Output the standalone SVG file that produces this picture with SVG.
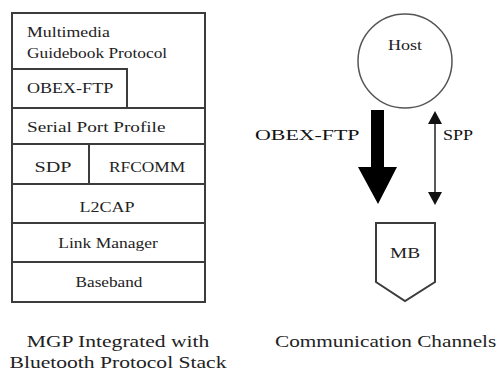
<svg xmlns="http://www.w3.org/2000/svg" width="499" height="374" viewBox="0 0 499 374">
<rect width="499" height="374" fill="#fff"/>
<g id="stack">
<g fill="#fff" stroke="#3c3c3c" stroke-width="2">
<rect id="mgp-box" x="12" y="13" width="193" height="95"/>
<rect id="obex-box" x="12" y="69" width="115" height="39"/>
<rect id="spp-box" x="12" y="108" width="193" height="36"/>
<rect id="sdp-box" x="12" y="144" width="77" height="40"/>
<rect id="rfcomm-box" x="89" y="144" width="116" height="40"/>
<rect id="l2cap-box" x="12" y="184" width="193" height="39"/>
<rect id="lm-box" x="12" y="223" width="193" height="39"/>
<rect id="bb-box" x="12" y="262" width="193" height="40"/>
</g>
<g font-family="Liberation Serif" font-size="14" fill="#222">
<text transform="translate(27,37) scale(1.27,1)">Multimedia</text>
<text transform="translate(27,58) scale(1.24,1)">Guidebook Protocol</text>
<text transform="translate(27,93) scale(1.29,1)">OBEX-FTP</text>
<text transform="translate(27,132) scale(1.37,1)">Serial Port Profile</text>
<text text-anchor="middle" transform="translate(53,172) scale(1.44,1)">SDP</text>
<text text-anchor="middle" transform="translate(147,172) scale(1.24,1)">RFCOMM</text>
<text text-anchor="middle" transform="translate(107,212) scale(1.29,1)">L2CAP</text>
<text text-anchor="middle" transform="translate(108,248) scale(1.25,1)">Link Manager</text>
<text text-anchor="middle" transform="translate(109,287) scale(1.23,1)">Baseband</text>
</g>
</g>
<g id="caption-left" font-family="Liberation Serif" font-size="17" fill="#222" text-anchor="middle">
<text transform="translate(118,347) scale(1.27,1)">MGP Integrated with</text>
<text transform="translate(118,368) scale(1.27,1)">Bluetooth Protocol Stack</text>
</g>
<g id="host"><circle cx="405" cy="61" r="47" fill="#fff" stroke="#555" stroke-width="1.5"/>
<text text-anchor="middle" font-family="Liberation Serif" font-size="14" fill="#222" transform="translate(405,50) scale(1.29,1)">Host</text></g>
<g id="mb"><polygon points="376,223 435,223 435,282 405,301 376,282" fill="#fff" stroke="#3c3c3c" stroke-width="2"/>
<text text-anchor="middle" font-family="Liberation Serif" font-size="14" fill="#222" transform="translate(405,258) scale(1.38,1)">MB</text></g>
<g id="connectors" font-family="Liberation Serif" font-size="15" fill="#111">
<polygon points="371,110 384,110 384,167 397,167 378,204 358,167 371,167" fill="#000"/>
<line x1="435" y1="122" x2="435" y2="194" stroke="#222" stroke-width="1.5"/>
<polygon points="435,111 428,124 442,124"/>
<polygon points="435,205 428,192 442,192"/>
<text transform="translate(255,140) scale(1.46,1)">OBEX-FTP</text>
<text transform="translate(443,140) scale(1.2,1)">SPP</text>
</g>
<text font-family="Liberation Serif" font-size="17" fill="#222" transform="translate(275,347) scale(1.25,1)">Communication Channels</text>
</svg>
